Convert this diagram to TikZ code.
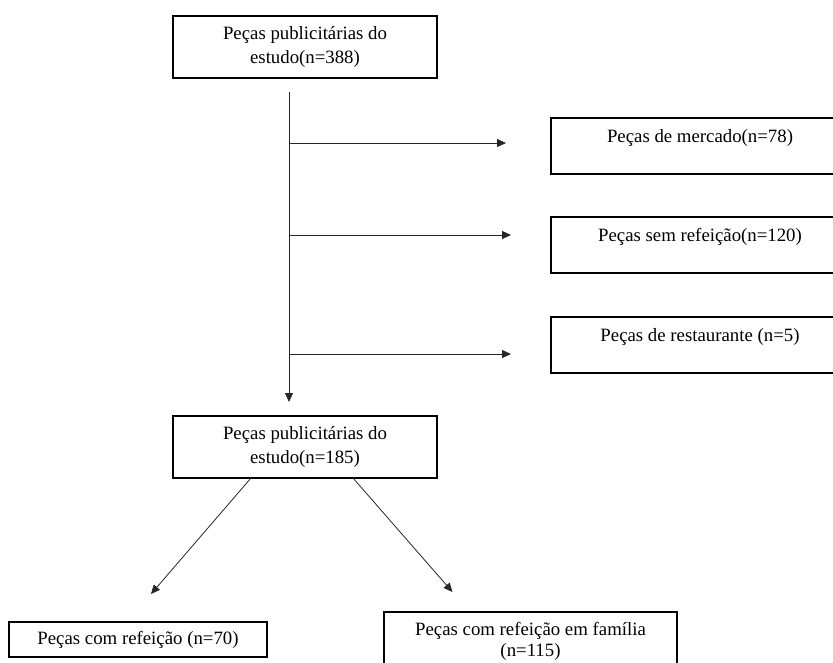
\documentclass[tikz,border=0pt]{standalone}
\usepackage{fontspec}
\setmainfont{Liberation Serif}
\newcommand*{\boxfont}{\fontsize{18.8}{24}\selectfont}
\definecolor{darkgrey}{gray}{0.15}
\usepackage{tikz}
\usetikzlibrary{arrows.meta}
\tikzstyle{base}=[x=1pt, y=-1pt, inner sep=0pt, outer sep=0pt]
\tikzstyle{box}=[draw, black, line width=1.4pt, align=center, anchor=north west, font=\boxfont]
\tikzstyle{sidebox}=[box, minimum width=298pt, text height=24pt, text depth=32pt]
\tikzstyle{conn}=[darkgrey, line width=0.8pt, -{Triangle[length=9pt,width=8pt]}]

\begin{document}
\begin{tikzpicture}[base]
    \useasboundingbox (0,0) rectangle (833,662);
        \node [box, minimum width=264pt, minimum height=62pt] (top) at (173,16) {Peças publicitárias do\\estudo(n=388)};
        \node [sidebox] (mkt) at (551,118) {Peças de mercado(n=78)};
        \node [sidebox] (nomeal) at (551,217) {Peças sem refeição(n=120)};
        \node [sidebox] (rest) at (551,317) {Peças de restaurante (n=5)};
        \node [box, minimum width=264pt, minimum height=62pt] (mid) at (173,416) {Peças publicitárias do\\estudo(n=185)};
        \node [box, minimum width=258pt, minimum height=35pt] (meal) at (9,622) {Peças com refeição (n=70)};
        \node [box, minimum width=293pt, minimum height=58pt] (fam) at (384,612) {Peças com refeição em família\\[-3pt](n=115)};
        \coordinate (trunk) at ([xshift=-16pt,yshift=-14pt]top.south);
        \coordinate (b1) at (289,143);
        \coordinate (b2) at (289,235);
        \coordinate (b3) at (289,354);
        \coordinate (lt) at ([xshift=13pt,yshift=28pt]meal.north);
        \coordinate (rt) at ([xshift=-78pt,yshift=20pt]fam.north);
        \draw [conn, shorten >=14pt] (trunk) -- ([xshift=-16pt]mid.north);
        \draw [conn, shorten >=45pt] (b1) -- (b1 -| mkt.west);
        \draw [conn, shorten >=40pt] (b2) -- (b2 -| nomeal.west);
        \draw [conn, shorten >=40pt] (b3) -- (b3 -| rest.west);
        \draw [conn] ([xshift=-54pt]mid.south) -- (lt);
        \draw [conn] ([xshift=48pt]mid.south) -- (rt);
    \end{tikzpicture}
\end{document}
